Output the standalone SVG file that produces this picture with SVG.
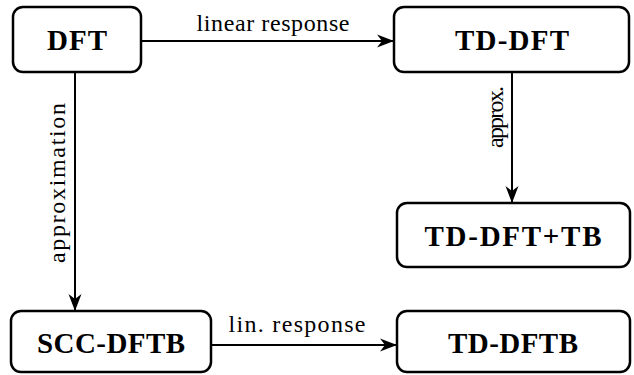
<svg xmlns="http://www.w3.org/2000/svg" width="634" height="375" viewBox="0 0 634 375">
<style>
.box{fill:#fff;stroke:#000;stroke-width:2.5}
.lbl{font-family:"Liberation Serif",serif;font-weight:bold;font-size:29px;text-anchor:middle;fill:#000}
.edge{stroke:#000;stroke-width:2;fill:none;marker-end:url(#ah)}
.el{font-family:"Liberation Serif",serif;font-size:24px;text-anchor:middle;fill:#000}
</style>
<defs>
<marker id="ah" markerUnits="userSpaceOnUse" markerWidth="20" markerHeight="16" refX="17" refY="7" orient="auto">
<path d="M0,0.5 L17,7 L0,13.5 L5,7 Z" fill="#000"/>
</marker>
</defs>
<g id="connectors">
<line class="edge" x1="142" y1="41" x2="394" y2="41"/>
<line class="edge" x1="75" y1="73" x2="75" y2="311"/>
<line class="edge" x1="512" y1="73" x2="512" y2="203"/>
<line class="edge" x1="211" y1="345" x2="397" y2="345"/>
<text class="el" x="273" y="31" textLength="153">linear response</text>
<text class="el" x="297" y="332" textLength="137">lin. response</text>
<text class="el" transform="translate(65,183) rotate(-90)" textLength="160">approximation</text>
<text class="el" transform="translate(503,117) rotate(-90)" textLength="62">approx.</text>
</g>
<g id="DFT">
<rect class="box" x="13" y="7" width="128" height="65" rx="10"/>
<text class="lbl" x="77" y="50" textLength="60">DFT</text>
</g>
<g id="TD-DFT">
<rect class="box" x="394" y="7" width="235" height="65" rx="10"/>
<text class="lbl" x="512" y="50" textLength="114">TD-DFT</text>
</g>
<g id="TD-DFT_TB">
<rect class="box" x="397" y="203" width="233" height="64" rx="10"/>
<text class="lbl" x="513" y="246" textLength="177">TD-DFT+TB</text>
</g>
<g id="SCC-DFTB">
<rect class="box" x="11" y="311" width="200" height="61" rx="10"/>
<text class="lbl" x="111" y="353" textLength="148">SCC-DFTB</text>
</g>
<g id="TD-DFTB">
<rect class="box" x="397" y="311" width="233" height="61" rx="10"/>
<text class="lbl" x="513" y="353" textLength="130">TD-DFTB</text>
</g>
</svg>
